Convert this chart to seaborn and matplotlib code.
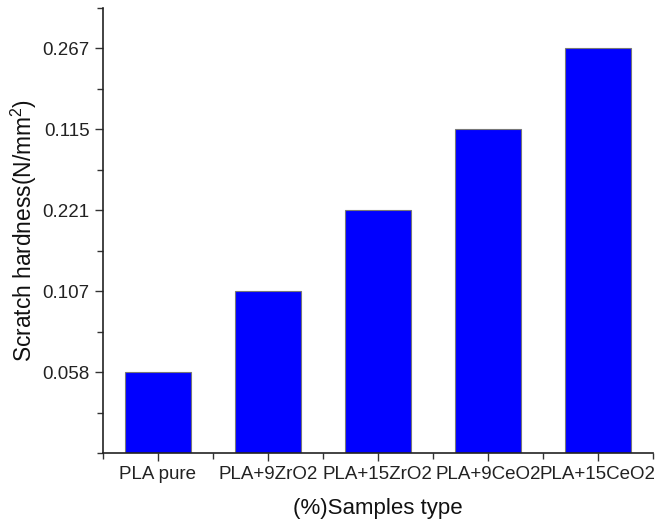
import matplotlib
matplotlib.use("Agg")
import matplotlib.pyplot as plt
import seaborn as sns
import pandas as pd
from matplotlib.ticker import FixedLocator

# Samples and their scratch hardness readings (N/mm^2)
samples = ["PLA pure", "PLA+9ZrO2", "PLA+15ZrO2", "PLA+9CeO2", "PLA+15CeO2"]
hardness_labels = ["0.058", "0.107", "0.221", "0.115", "0.267"]
# bar levels on the value axis (one level per labelled tick)
levels = [1, 2, 3, 4, 5]

df = pd.DataFrame({"sample": samples, "level": levels})

sns.set_theme(style="ticks")
plt.rcParams["font.family"] = ["Liberation Sans", "DejaVu Sans"]
plt.rcParams["mathtext.fontset"] = "custom"
plt.rcParams["mathtext.rm"] = "Liberation Sans"

fig = plt.figure(figsize=(6.56, 5.25), dpi=100)
ax = fig.add_axes([0.157, 0.137, 0.838, 0.848])

sns.barplot(data=df, x="sample", y="level", color="#0000FF", saturation=1,
            width=0.6, edgecolor="#777777", linewidth=0.8, ax=ax)

ax.set_xlim(-0.5, 4.5)
ax.set_ylim(0, 5.5)

ax.set_yticks(levels)
ax.set_yticklabels(hardness_labels)
ax.yaxis.set_minor_locator(FixedLocator([0, 0.5, 1.5, 2.5, 3.5, 4.5, 5.5]))
ax.xaxis.set_minor_locator(FixedLocator([-0.5, 0.5, 1.5, 2.5, 3.5, 4.5]))

ax.tick_params(axis="both", which="major", direction="out", length=6,
               width=1, color="#333333", labelsize=13.5, labelcolor="#222222")
ax.tick_params(axis="both", which="minor", direction="out", length=4,
               width=1, color="#333333")

for side in ("top", "right"):
    ax.spines[side].set_visible(False)
for side in ("left", "bottom"):
    ax.spines[side].set_linewidth(1.2)
    ax.spines[side].set_color("#222222")

ax.set_xlabel("(%)Samples type", fontsize=16, color="#111111", va="center")
ax.set_ylabel("Scratch hardness(N/mm$\\mathregular{^2}$)", fontsize=16.4,
              color="#111111", va="center")
ax.yaxis.set_label_coords(-0.144, 0.5)
ax.xaxis.set_label_coords(0.5, -0.124)

fig.savefig("out.png", dpi=100)
